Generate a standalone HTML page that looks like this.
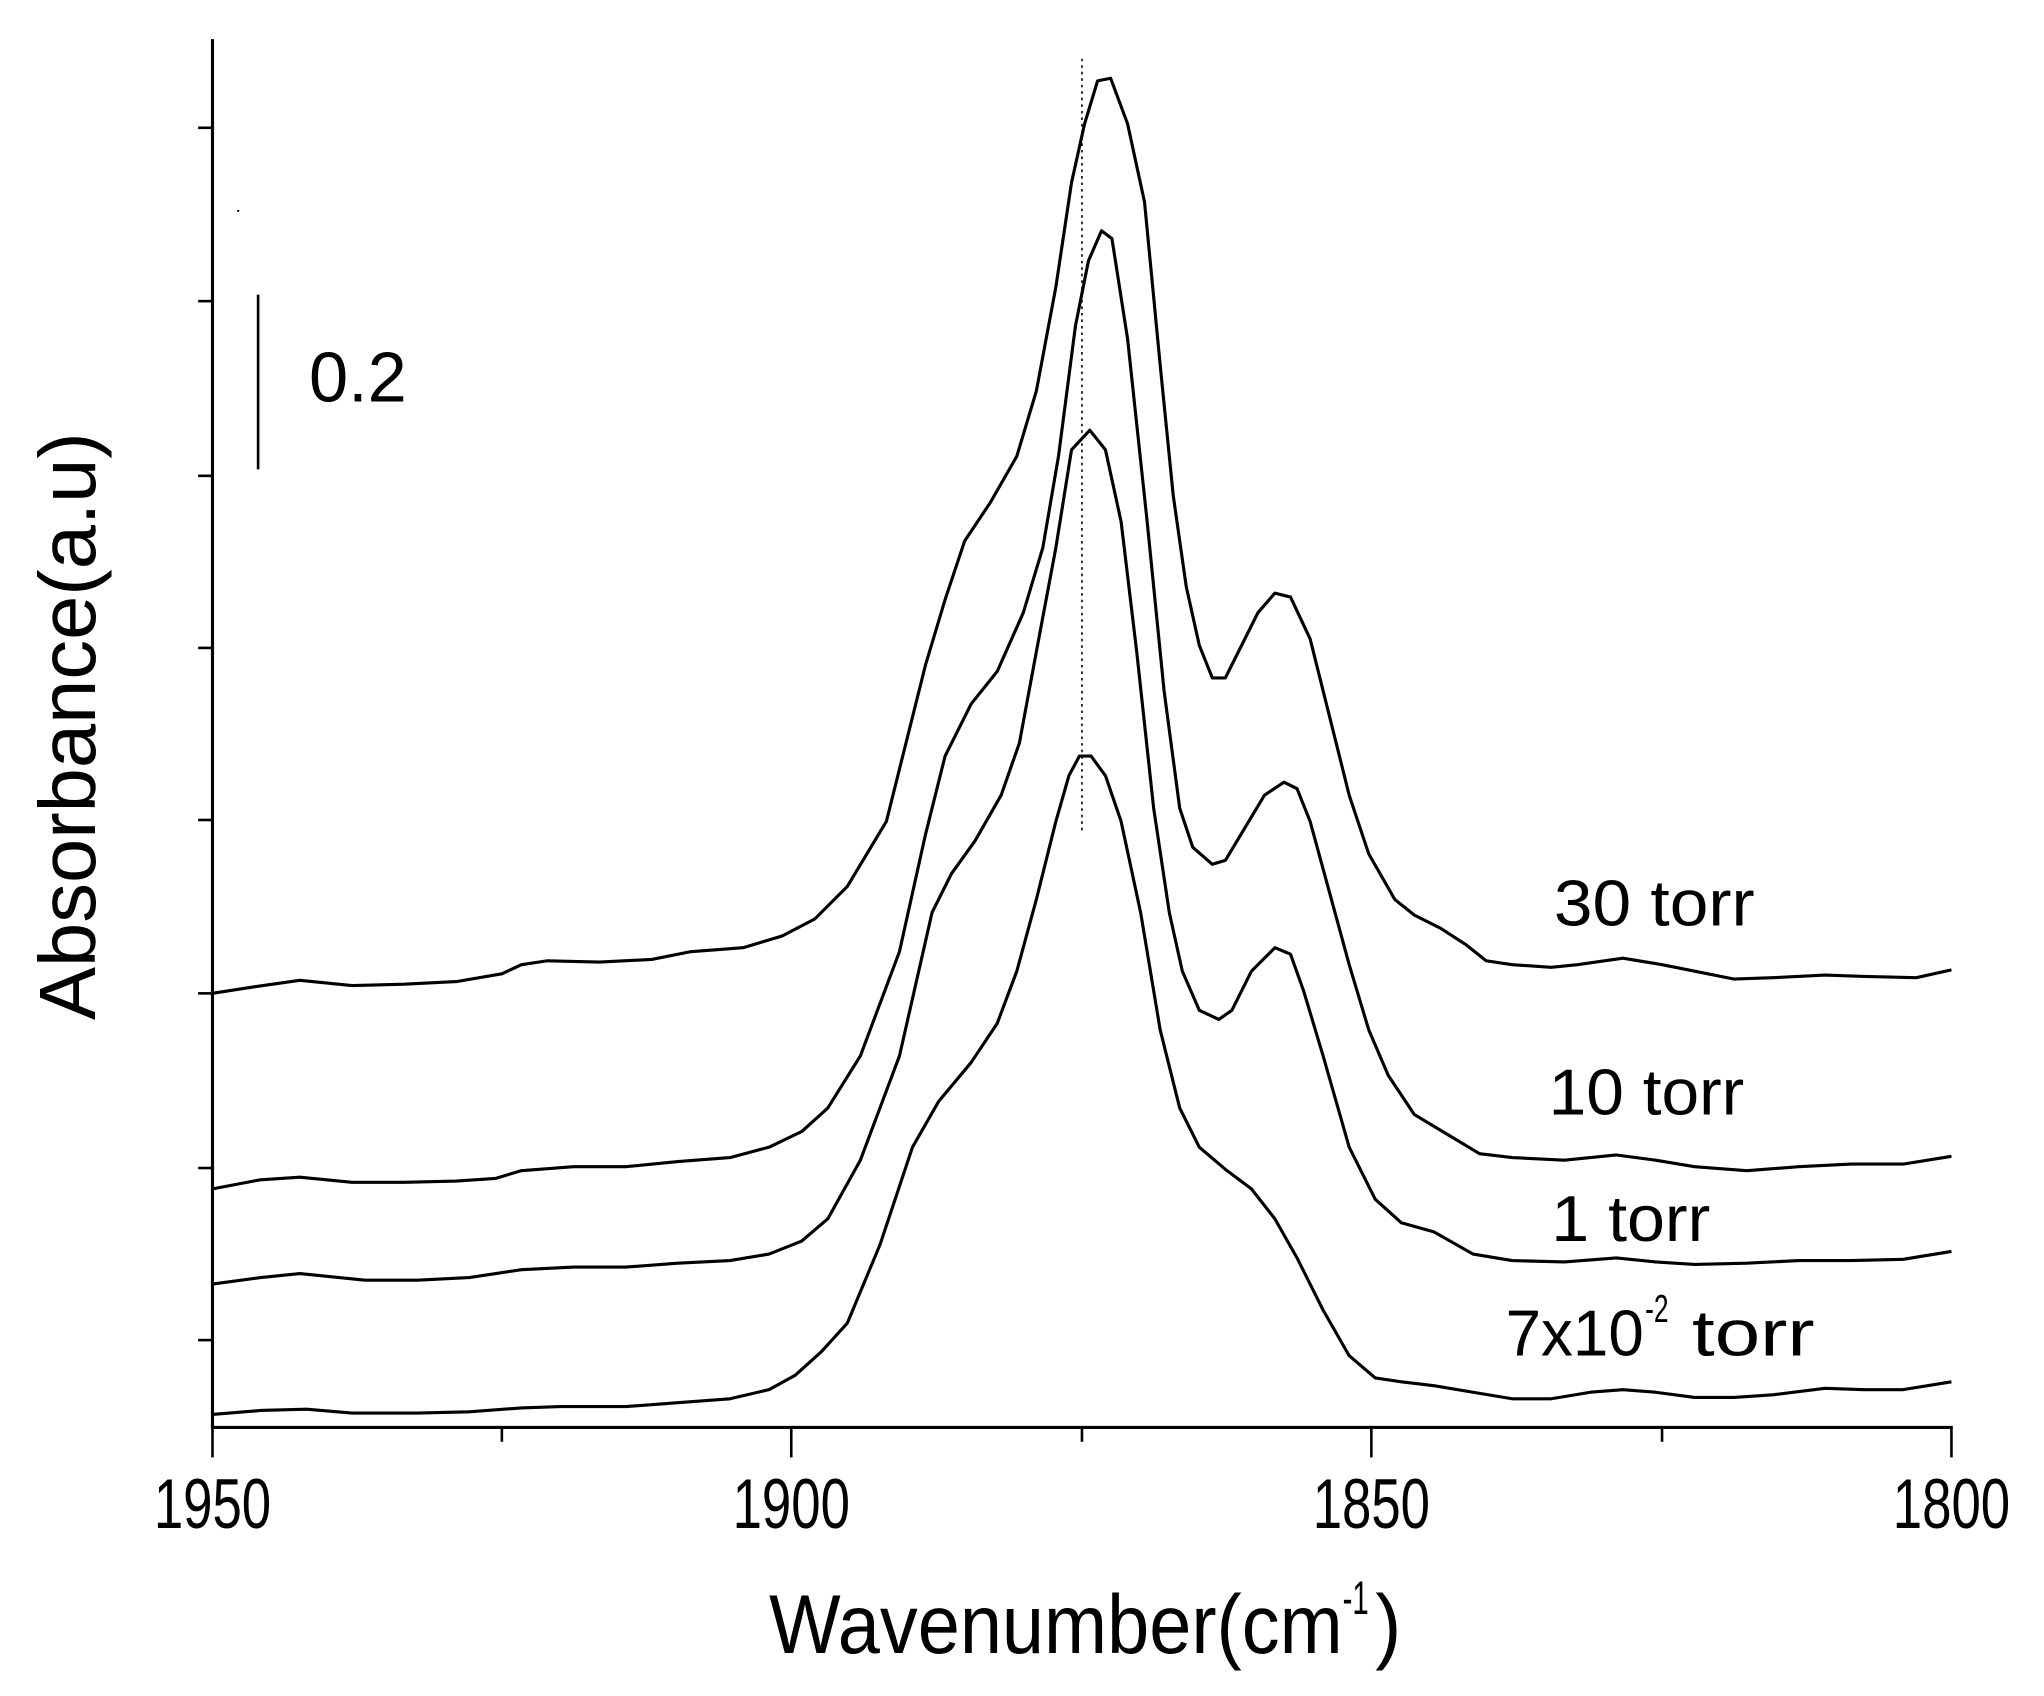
<!DOCTYPE html>
<html><head><meta charset="utf-8"><style>html,body{margin:0;padding:0;background:#fff}svg{display:block}</style></head>
<body>
<svg width="2044" height="1696" viewBox="0 0 1568 1301" xmlns="http://www.w3.org/2000/svg" font-family="'Liberation Sans', Arial, sans-serif">
<rect width="1568" height="1301" fill="#fff"/>
<g stroke="#000" stroke-width="2.4" fill="none">
<line x1="163" y1="30" x2="163" y2="1096"/>
<line x1="162" y1="1095" x2="1498" y2="1095"/>
<g stroke-width="2">
<line x1="152" y1="98" x2="163" y2="98"/><line x1="152" y1="231" x2="163" y2="231"/>
<line x1="152" y1="365" x2="163" y2="365"/><line x1="152" y1="497" x2="163" y2="497"/>
<line x1="152" y1="629" x2="163" y2="629"/><line x1="152" y1="762" x2="163" y2="762"/>
<line x1="152" y1="896" x2="163" y2="896"/><line x1="152" y1="1028" x2="163" y2="1028"/>
<line x1="163" y1="1095" x2="163" y2="1118"/><line x1="607" y1="1095" x2="607" y2="1118"/>
<line x1="1052" y1="1095" x2="1052" y2="1118"/><line x1="1497" y1="1095" x2="1497" y2="1118"/>
<line x1="385" y1="1095" x2="385" y2="1106"/><line x1="830" y1="1095" x2="830" y2="1106"/>
<line x1="1275" y1="1095" x2="1275" y2="1106"/>
<line x1="198" y1="226" x2="198" y2="360"/>
</g>
<line x1="830" y1="45" x2="830" y2="640" stroke-width="1.2" stroke-dasharray="2,3"/>
<g stroke-width="2.4" stroke-linejoin="round">
<polyline points="163,762 195,757 230,752 270,756 310,755 350,753 385,747 400,740 420,737 460,738 500,736 530,730 570,727 600,718 625,705 650,680 680,630 710,510 725,460 740,415 760,385 780,350 795,300 810,220 822,140 832,95 842,62 852,60 865,95 878,155 890,280 900,380 910,450 920,495 930,520 940,520 950,500 965,470 978,455 990,458 1005,490 1020,550 1035,610 1050,655 1070,690 1085,702 1105,712 1125,725 1140,737 1160,740 1190,742 1210,740 1245,735 1275,740 1300,745 1330,751 1360,750 1400,748 1430,749 1470,750 1497,744"/>
<polyline points="163,912 200,905 230,903 270,907 310,907 350,906 380,904 400,898 440,895 480,895 520,891 560,888 590,880 615,868 635,850 660,810 690,730 710,640 725,580 745,540 765,515 785,470 800,420 812,350 825,250 835,200 845,177 853,183 865,260 880,400 893,530 905,620 915,650 930,663 940,660 955,635 970,610 985,600 995,605 1005,630 1020,685 1035,740 1050,790 1065,825 1085,855 1110,870 1135,885 1160,888 1200,890 1240,886 1270,890 1300,895 1340,898 1380,895 1420,893 1460,893 1497,887"/>
<polyline points="163,985 200,980 230,977 280,982 320,982 360,980 400,974 440,972 480,972 520,969 560,967 590,962 615,952 635,935 660,890 690,810 715,700 730,670 748,645 768,610 782,570 795,500 810,420 822,345 836,330 848,345 860,400 872,500 885,620 897,700 907,745 920,775 935,782 945,775 960,745 978,727 990,732 1000,760 1015,810 1035,880 1055,920 1075,938 1100,945 1130,962 1160,967 1200,968 1240,965 1270,968 1300,970 1340,969 1380,967 1420,967 1460,966 1497,960"/>
<polyline points="163,1085 200,1082 235,1081 270,1084 320,1084 360,1083 400,1080 430,1079 480,1079 520,1076 560,1073 590,1066 610,1055 630,1037 650,1015 675,955 700,880 720,845 745,815 765,785 780,745 795,690 810,630 820,595 828,580 837,580 848,595 860,630 875,700 890,790 905,850 920,880 940,897 960,912 978,935 995,965 1015,1005 1035,1040 1055,1057 1075,1060 1100,1063 1130,1068 1160,1073 1190,1073 1220,1068 1245,1066 1270,1068 1300,1072 1330,1072 1360,1070 1400,1065 1430,1066 1460,1066 1497,1060"/>
</g>
</g>
<rect x="182" y="161" width="1.5" height="1.5" fill="#000"/>
<g fill="#000" font-size="54">
<text x="118" y="1172" textLength="90" lengthAdjust="spacingAndGlyphs">1950</text>
<text x="562" y="1172" textLength="90" lengthAdjust="spacingAndGlyphs">1900</text>
<text x="1007" y="1172" textLength="90" lengthAdjust="spacingAndGlyphs">1850</text>
<text x="1452" y="1172" textLength="90" lengthAdjust="spacingAndGlyphs">1800</text>
<text x="237" y="308">0.2</text>
<text font-size="64" x="590" y="1268" textLength="440" lengthAdjust="spacingAndGlyphs">Wavenumber(cm</text>
<text font-size="36" x="1030" y="1238" textLength="20" lengthAdjust="spacingAndGlyphs">-1</text>
<text font-size="64" x="1055" y="1268" textLength="20" lengthAdjust="spacingAndGlyphs">)</text>
<text font-size="61" transform="translate(73,557) rotate(-90)" text-anchor="middle">Absorbance(a.u)</text>
<g font-size="50">
<text x="1192" y="710" textLength="154" lengthAdjust="spacingAndGlyphs">30 torr</text>
<text x="1188" y="855" textLength="150" lengthAdjust="spacingAndGlyphs">10 torr</text>
<text x="1190" y="952" textLength="122" lengthAdjust="spacingAndGlyphs">1 torr</text>
<text x="1155" y="1040" textLength="106" lengthAdjust="spacingAndGlyphs">7x10</text>
<text font-size="30" x="1262" y="1014" textLength="18" lengthAdjust="spacingAndGlyphs">-2</text>
<text x="1298" y="1040" textLength="94" lengthAdjust="spacingAndGlyphs">torr</text>
</g>
</g>
</svg>
</body></html>
